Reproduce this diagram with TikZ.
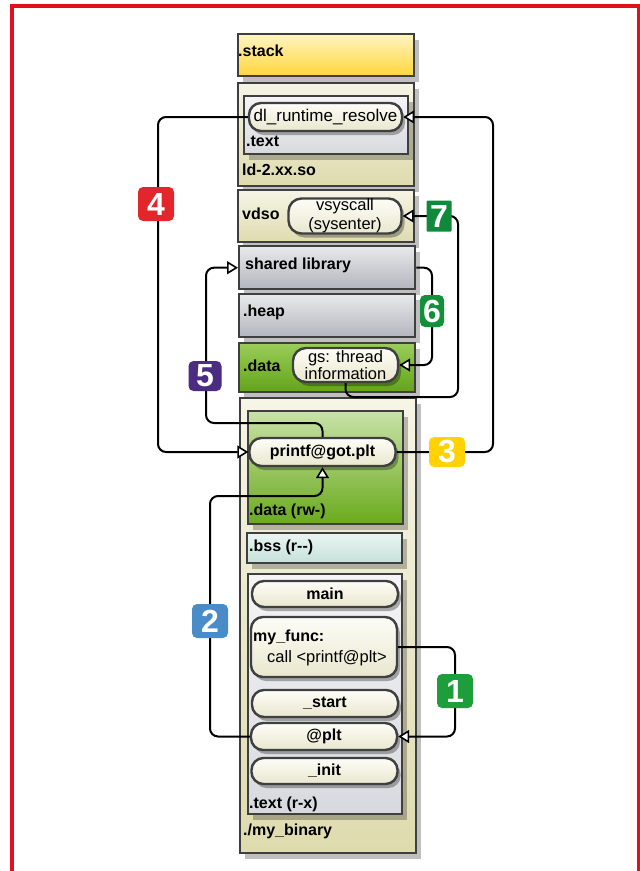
\documentclass[tikz,border=0pt]{standalone}
\usepackage{fontspec}
\setmainfont{Liberation Sans}
\usetikzlibrary{arrows.meta,shadows}

\definecolor{edge}{HTML}{3F3F3F}
\definecolor{frameRed}{HTML}{E30E1E}
\definecolor{yelTop}{HTML}{FFF4C2}
\definecolor{yelBot}{HTML}{FFD63A}
\definecolor{begTop}{HTML}{F6F5E6}
\definecolor{begBot}{HTML}{DEDBAE}
\definecolor{lgrTop}{HTML}{F5F5F7}
\definecolor{lgrBot}{HTML}{D8D9DE}
\definecolor{gryTop}{HTML}{E8E9EC}
\definecolor{gryBot}{HTML}{B2B5BC}
\definecolor{grnTop}{HTML}{9ACD5A}
\definecolor{grnBot}{HTML}{62A418}
\definecolor{rwTop}{HTML}{C8E2A8}
\definecolor{rwBot}{HTML}{6AAA1C}
\definecolor{bssTop}{HTML}{EAF5F3}
\definecolor{bssBot}{HTML}{C5E1D9}
\definecolor{pilTop}{HTML}{FDFDF8}
\definecolor{pilBot}{HTML}{E9E7CE}
\definecolor{oneGreen}{HTML}{1E9E3A}
\definecolor{twoBlue}{HTML}{4A8CC8}
\definecolor{threeYel}{HTML}{FFD200}
\definecolor{fourRed}{HTML}{E3262B}
\definecolor{fivePurp}{HTML}{4B2C83}
\definecolor{sixGreen}{HTML}{11913A}
\definecolor{sevGreen}{HTML}{0F8A3C}

\begin{document}
\begin{tikzpicture}[x=1pt,y=-1pt,
    seg/.style={draw=edge, line width=2.4pt, anchor=north west, inner sep=0pt,
      top color=#1Top, bottom color=#1Bot,
      drop shadow={shadow xshift=5pt, shadow yshift=-6pt, opacity=0.25, fill=black}},
    pill/.style={draw=edge, line width=2.4pt, rounded corners=12pt, inner sep=0pt,
      top color=pilTop, bottom color=pilBot, align=center,
      font=\fontsize{16.5}{19}\selectfont,
      drop shadow={shadow xshift=3pt, shadow yshift=-4pt, opacity=0.3, fill=black}},
    lbl/.style={anchor=west, inner sep=0pt, font=\fontsize{16}{19}\selectfont\bfseries},
    flow/.style={line width=2pt, rounded corners=8pt,
      -{Triangle[fill=white, length=11pt, width=13pt, line width=1.6pt]}},
    badge/.style={fill=#1, text=white, rounded corners=5pt, inner sep=0pt,
      minimum width=36pt, minimum height=34pt,
      font=\fontsize{32}{32}\selectfont\bfseries}]
    \useasboundingbox (0,0) rectangle (640,871);
    \fill[white] (0,0) rectangle (640,871);
    \draw[frameRed, line width=4pt] (11.5,880) -- (11.5,6) -- (638.5,6) -- (638.5,880);

    \node[seg=yel, minimum width=176pt, minimum height=42pt] (stack) at (237,33) {};
    \node[lbl] at (238,51) {.stack};

    \node[seg=beg, minimum width=176pt, minimum height=103pt] (ld) at (237,82) {};
    \node[seg=lgr, minimum width=164pt, minimum height=58pt] (ldtext) at (243,95) {};
    \node[pill, minimum width=153pt, minimum height=28pt, font=\fontsize{17}{19}\selectfont]
      (dlr) at (325.5,117) {dl\_runtime\_resolve};
    \node[lbl] at (246,141) {.text};
    \node[lbl] at (242,170) {ld-2.xx.so};

    \node[seg=beg, minimum width=176pt, minimum height=52pt] (vdso) at (237,189) {};
    \node[lbl] at (242,214) {vdso};
    \node[pill, minimum width=113pt, minimum height=35pt, rounded corners=13pt,
      font=\fontsize{16.5}{19}\selectfont] (vsys) at (345,216) {vsyscall\\(sysenter)};

    \node[seg=gry, minimum width=176pt, minimum height=43pt] (shlib) at (238,245) {};
    \node[lbl] at (245,265) {shared library};
    \node[seg=gry, minimum width=176pt, minimum height=43pt] (heap) at (238,293) {};
    \node[lbl] at (243,312) {.heap};
    \node[seg=grn, minimum width=176pt, minimum height=49pt] (data) at (238,342) {};
    \node[lbl] at (243,366) {.data};
    \node[pill, minimum width=105pt, minimum height=34pt, rounded corners=13pt,
      font=\fontsize{16.5}{17}\selectfont] (gs) at (345.5,365) {gs: thread\\information};

    \node[seg=beg, minimum width=176pt, minimum height=455pt] (bin) at (239,397) {};
    \node[seg=rw, minimum width=155pt, minimum height=113pt] (rw) at (247,410) {};
    \node[pill, minimum width=146pt, minimum height=28pt, font=\fontsize{16}{19}\selectfont\bfseries]
      (got) at (322.5,452) {printf@got.plt};
    \node[lbl] at (249,511) {.data (rw-)};
    \node[seg=bss, minimum width=155pt, minimum height=30pt] (bss) at (246,532) {};
    \node[lbl] at (249,547) {.bss (r-{}-)};

    \node[seg=lgr, minimum width=154pt, minimum height=240pt] (rx) at (247,573) {};
    \node[pill, minimum width=146pt, minimum height=26pt, font=\fontsize{16}{19}\selectfont\bfseries]
      (main) at (325,594) {main};
    \node[pill, minimum width=146pt, minimum height=60pt, align=left]
      (myfunc) at (324,647) {};
    \node[lbl] at (253,637) {my\_func:};
    \node[anchor=west, inner sep=0pt, font=\fontsize{16.5}{19}\selectfont] at (267,658) {call <printf@plt>};
    \node[pill, minimum width=146pt, minimum height=27pt, font=\fontsize{16}{19}\selectfont\bfseries]
      (start) at (325,703.5) {\_start};
    \node[pill, minimum width=146pt, minimum height=27pt, font=\fontsize{16}{19}\selectfont\bfseries]
      (plt) at (324,736.5) {@plt};
    \node[pill, minimum width=146pt, minimum height=26pt, font=\fontsize{16}{19}\selectfont\bfseries]
      (init) at (324.5,771) {\_init};
    \node[lbl] at (249,804) {.text (r-x)};
    \node[lbl] at (243,831) {./my\_binary};

    \coordinate (j1) at (455,691);
    \coordinate (j2) at (210,496);
    \coordinate (j3) at (493,300);
    \coordinate (j4) at (158,300);
    \coordinate (j5) at (206,423);
    \coordinate (j6) at (432,311);
    \coordinate (j7) at (458,397);

    \draw[flow] (myfunc.east) -| (j1) |- (plt.east);
    \draw[flow] (plt.west) -| (j2) -| (got.south);
    \draw[flow] (got.east) -| (j3) |- (dlr.east);
    \draw[flow] (dlr.west) -| (j4) |- (got.west);
    \draw[flow] (got.north) |- (j5) |- (shlib.west);
    \draw[flow] (shlib.east) -| (j6) |- (gs.east);
    \draw[flow] (gs.south) |- (j7) |- (vsys.east);

    \node[badge=oneGreen] (b1) at (455,691) {1};
    \node[badge=twoBlue] (b2) at (210,621) {2};
    \node[badge=threeYel, minimum height=30pt] (b3) at (447,452) {3};
    \node[badge=fourRed] (b4) at (156,204) {4};
    \node[badge=fivePurp, minimum width=33pt, minimum height=30pt] (b5) at (205,376) {5};
    \node[badge=sixGreen, minimum width=24pt, minimum height=32pt] (b6) at (432,311) {6};
    \node[badge=sevGreen, minimum width=25pt, minimum height=31pt, rounded corners=1pt] (b7) at (439,216) {7};
\end{tikzpicture}
\end{document}
